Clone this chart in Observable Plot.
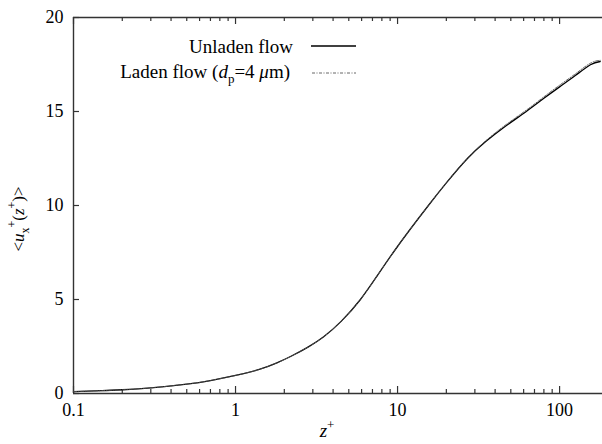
<!DOCTYPE html>
<html>
<head>
<meta charset="utf-8">
<script src="https://cdn.jsdelivr.net/npm/d3@7"></script>
<script src="https://cdn.jsdelivr.net/npm/@observablehq/plot@0.6"></script>
<style>
  html, body { margin: 0; padding: 0; background: #fff; }
  #chart { width: 602px; height: 444px; }
</style>
</head>
<body>
<div id="chart"></div>
<script>
// ---- data ----
const zPlus     = [0.1, 0.15, 0.2, 0.3, 0.5, 0.7, 1, 1.4, 1.8, 2.2, 2.8, 3.5, 4.5, 5.9, 7.5, 9.4, 12, 15.5, 20, 27, 35, 45, 62, 80, 100, 125, 155, 178];
const uUnladen  = [0.1, 0.15, 0.2, 0.3, 0.5, 0.69, 0.96, 1.28, 1.63, 1.98, 2.47, 3.02, 3.85, 5.0, 6.27, 7.5, 8.75, 10.0, 11.2, 12.5, 13.4, 14.14, 14.99, 15.7, 16.31, 16.91, 17.49, 17.66];
const uLaden    = [0.1, 0.15, 0.2, 0.3, 0.5, 0.69, 0.96, 1.28, 1.63, 1.98, 2.47, 3.02, 3.85, 5.0, 6.27, 7.5, 8.75, 10.0, 11.21, 12.52, 13.44, 14.2, 15.06, 15.78, 16.4, 17.0, 17.57, 17.72];
const xMajorTicks = [0.1, 1, 10, 100];
const xMinorTicks = [0.2, 0.3, 0.4, 0.5, 0.6, 0.7, 0.8, 0.9, 2, 3, 4, 5, 6, 7, 8, 9, 20, 30, 40, 50, 60, 70, 80, 90];
const yTicks = [0, 5, 10, 15, 20];
const seriesNames = ["Unladen flow", "Laden flow"];

const unladen = zPlus.map((z, i) => ({z, u: uUnladen[i]}));
const laden = zPlus.map((z, i) => ({z, u: uLaden[i]}));

const W = 602, H = 444, mL = 73, mR = 0, mT = 17, mB = 51;
const innerW = W - mL - mR, innerH = H - mT - mB;
const axisColor = "#333";
const font = "'Liberation Serif', 'Times New Roman', Times, Tinos, 'Noto Serif', 'DejaVu Serif', serif";

const chart = Plot.plot({
  width: W, height: H,
  marginLeft: mL, marginRight: mR, marginTop: mT, marginBottom: mB,
  x: {type: "log", domain: [0.1, 184]},
  y: {domain: [0, 20]},
  style: {fontSize: "18px", color: "#000", background: "#fff"},
  marks: [
    Plot.ruleY([0], {stroke: axisColor, strokeWidth: 1.4}),
    Plot.ruleY([20], {stroke: axisColor, strokeWidth: 1.4}),
    Plot.ruleX([0.1], {stroke: axisColor, strokeWidth: 1.4}),
    // inward ticks, bottom
    Plot.tickX(xMajorTicks, {x: d => d, insetTop: innerH - 7, stroke: axisColor, strokeWidth: 1.2}),
    Plot.tickX(xMinorTicks, {x: d => d, insetTop: innerH - 4, stroke: axisColor, strokeWidth: 1.2}),
    // inward ticks, top
    Plot.tickX(xMajorTicks, {x: d => d, insetBottom: innerH - 7, stroke: axisColor, strokeWidth: 1.2}),
    Plot.tickX(xMinorTicks, {x: d => d, insetBottom: innerH - 4, stroke: axisColor, strokeWidth: 1.2}),
    // inward ticks, left
    Plot.tickY(yTicks, {y: d => d, insetRight: innerW - 6, stroke: axisColor, strokeWidth: 1.2}),
    Plot.axisX({ticks: xMajorTicks, tickSize: 0, tickPadding: 10, tickFormat: d => String(d), label: null}),
    Plot.axisY({ticks: yTicks, tickSize: 0, tickPadding: 10, label: null}),
    Plot.line(unladen, {x: "z", y: "u", stroke: "#000", strokeWidth: 1.3, curve: "natural"}),
    Plot.line(laden, {x: "z", y: "u", stroke: "#555", strokeWidth: 0.9, strokeDasharray: "3,1.5,1,1.5", curve: "natural"})
  ]
});
document.getElementById("chart").appendChild(chart);

const svg = d3.select(chart);
svg.node().style.fontFamily = font;
svg.selectAll("text").each(function() { this.style.fontFamily = font; this.style.fontSize = "18px"; });

// ---- rich text labels ----
function rich(g, parts) {
  let cur = 0;
  parts.forEach(p => {
    const shift = p.shift || 0;
    const ts = g.append("tspan").text(p.t).attr("dy", shift - cur);
    cur = shift;
    if (p.italic) ts.style("font-style", "italic");
    if (p.size) ts.style("font-size", p.size + "px");
  });
}
function addText(x, y, anchor, size, parts, rotate) {
  const t = svg.append("text")
    .attr("transform", `translate(${x},${y})` + (rotate ? ` rotate(${rotate})` : ""))
    .attr("text-anchor", anchor)
    .attr("fill", "#000");
  t.node().style.fontFamily = font;
  t.node().style.fontSize = size + "px";
  rich(t, parts);
  return t;
}

// y-axis label <u_x^+(z^+)>
addText(24, 219, "middle", 17, [
  {t: "<"}, {t: "u", italic: true}, {t: "x", size: 12, shift: 5},
  {t: "+", size: 12, shift: -8}, {t: "("}, {t: "z", italic: true},
  {t: "+", size: 12, shift: -8}, {t: ")>"}
], -90);

// x-axis label z^+
addText(327, 437, "middle", 19, [{t: "z", italic: true}, {t: "+", size: 13, shift: -8}]);

// legend
addText(293, 53, "end", 19, [{t: seriesNames[0]}]);
svg.append("line").attr("x1", 311).attr("x2", 356).attr("y1", 46).attr("y2", 46)
  .attr("stroke", "#000").attr("stroke-width", 1.3);
addText(290, 78, "end", 19, [
  {t: seriesNames[1] + " ("}, {t: "d", italic: true}, {t: "p", size: 13, shift: 5},
  {t: "=4 "}, {t: "μ", italic: true}, {t: "m)"}
]);
svg.append("line").attr("x1", 312).attr("x2", 356).attr("y1", 73).attr("y2", 73)
  .attr("stroke", "#555").attr("stroke-width", 0.9).attr("stroke-dasharray", "3,1.5,1,1.5");
</script>
</body>
</html>
